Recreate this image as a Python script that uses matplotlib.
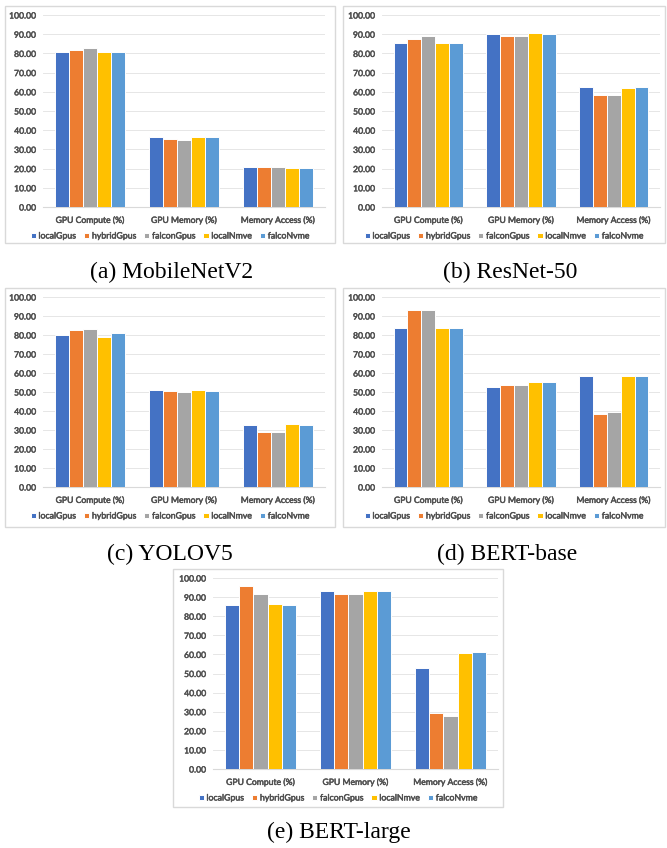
"""Five grouped bar charts of GPU / memory usage per model, Excel style."""

import matplotlib.pyplot as plt
import matplotlib.patheffects as pe
import numpy as np
from matplotlib.patches import Rectangle

W, H = 667, 848

categories = ["GPU Compute (%)", "GPU Memory (%)", "Memory Access (%)"]
series = ["localGpus", "hybridGpus", "falconGpus", "localNmve", "falcoNvme"]
colors = ["#4472C4", "#ED7D31", "#A5A5A5", "#FFC000", "#5B9BD5"]

# rows = series, columns = categories
mobilenet = [[80.7, 36.7, 20.7],
             [81.7, 35.4, 20.7],
             [82.6, 35.1, 21.0],
             [80.7, 36.5, 20.3],
             [80.5, 36.6, 20.2]]
resnet = [[85.4, 90.1, 62.6],
          [87.7, 88.9, 58.3],
          [89.0, 88.9, 58.4],
          [85.4, 90.6, 61.8],
          [85.4, 90.1, 62.3]]
yolo = [[79.9, 50.8, 32.5],
        [82.7, 50.3, 29.0],
        [83.0, 49.9, 28.7],
        [79.0, 51.1, 33.1],
        [80.9, 50.3, 32.5]]
bert_base = [[83.6, 52.8, 58.4],
             [93.2, 53.8, 38.5],
             [93.4, 53.6, 39.3],
             [83.6, 55.1, 58.6],
             [83.6, 55.1, 58.3]]
bert_large = [[86.1, 93.0, 53.0],
              [96.0, 91.8, 29.2],
              [91.5, 91.5, 27.5],
              [86.6, 93.4, 60.9],
              [86.1, 93.0, 61.1]]

captions = ["(a) MobileNetV2", "(b) ResNet-50", "(c) YOLOV5", "(d) BERT-base", "(e) BERT-large"]
yticks = np.arange(0, 101, 10)

TEXT = "#505050"
heavy = [pe.withStroke(linewidth=0.35, foreground=TEXT)]


def fx(x):
    return x / W


def fy(y):
    return 1 - y / H


def draw_panel(fig, data, box, axbox, caption, cap_xy):
    """box/axbox are (left, top, right, bottom) in pixels."""
    l, t, r, b = box
    fig.patches.append(Rectangle((fx(l), fy(b)), fx(r - l), (b - t) / H,
                                 transform=fig.transFigure, fill=False,
                                 edgecolor="#D9D9D9", linewidth=1.0))
    al, at, ar, ab = axbox
    ax = fig.add_axes([fx(al), fy(ab), fx(ar - al), (ab - at) / H])
    x = np.arange(len(categories))
    width = 0.15
    for i, (name, vals) in enumerate(zip(series, data)):
        ax.bar(x + (i - 2) * width, vals, width, color=colors[i],
               edgecolor="white", linewidth=0.7, label=name, zorder=3)
    ax.set_xlim(-0.5, 2.5)
    ax.set_ylim(0, 100)
    ax.set_yticks(yticks)
    ax.set_yticklabels(["%.2f" % v for v in yticks])
    ax.set_xticks(x)
    ax.set_xticklabels(categories)
    ax.grid(axis="y", color="#E6E6E6", linewidth=0.7, zorder=0)
    for s in ["top", "right", "left"]:
        ax.spines[s].set_visible(False)
    ax.spines["bottom"].set_color("#D9D9D9")
    ax.tick_params(length=0, labelsize=6.2, labelcolor=TEXT)
    ax.tick_params(axis="x", pad=6)
    ax.tick_params(axis="y", pad=5)
    for lab in ax.get_xticklabels() + ax.get_yticklabels():
        lab.set_path_effects(heavy)
    # legend sits centred on the chart box, just under the category labels
    leg = ax.legend(loc="center", bbox_to_anchor=(fx((l + r) / 2), fy(ab + 29)),
                    bbox_transform=fig.transFigure, ncol=5,
                    frameon=False, fontsize=6.3, handlelength=0.6,
                    handleheight=0.6, handletextpad=0.3, columnspacing=0.9,
                    borderaxespad=0, borderpad=0)
    for txt in leg.get_texts():
        txt.set_color(TEXT)
        txt.set_path_effects(heavy)
    fig.text(fx(cap_xy[0]), fy(cap_xy[1]), caption, ha="center", va="center",
             fontsize=17, family="Liberation Serif")


if __name__ == "__main__":
    plt.rcParams["font.family"] = ["Lato", "DejaVu Sans"]
    fig = plt.figure(figsize=(W / 100, H / 100), dpi=100)

    draw_panel(fig, mobilenet, (5, 6, 335, 243), (43, 15, 325, 207), captions[0], (172, 272))
    draw_panel(fig, resnet, (343, 6, 665, 243), (382, 15, 660, 207), captions[1], (510, 272))
    draw_panel(fig, yolo, (5, 288, 335, 527), (43, 297, 325, 487), captions[2], (170, 554))
    draw_panel(fig, bert_base, (343, 288, 665, 527), (382, 297, 660, 487), captions[3], (507, 554))
    draw_panel(fig, bert_large, (173, 569, 503, 807), (213, 578, 498, 769), captions[4], (339, 832))

    fig.savefig("out.png", dpi=100)
